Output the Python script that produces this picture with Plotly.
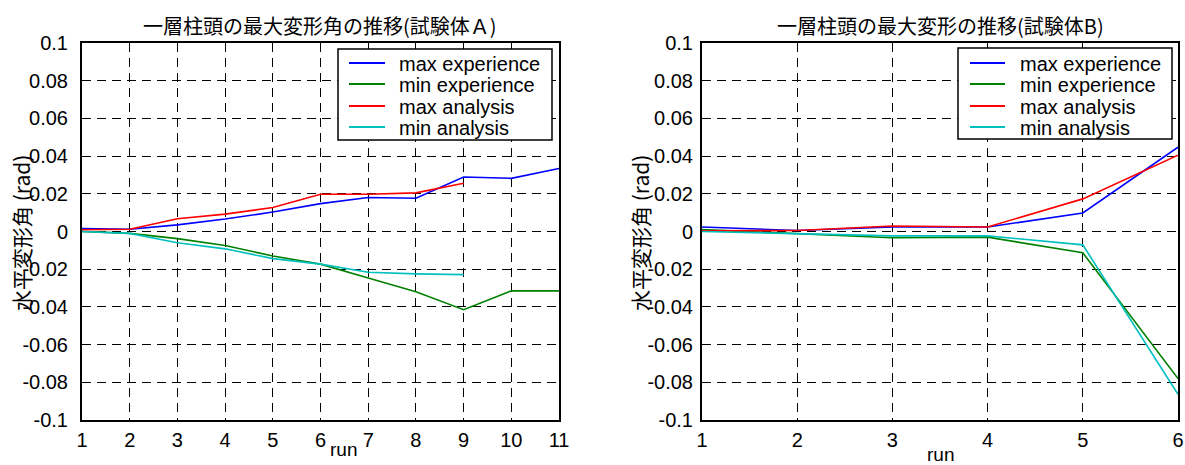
import plotly.graph_objects as go

# ---------------- data ----------------
runs_a = [1, 2, 3, 4, 5, 6, 7, 8, 9, 10, 11]
max_exp_a = [0.0016, 0.0012, 0.0035, 0.0066, 0.0103, 0.0148, 0.0180, 0.0176, 0.0289, 0.0282, 0.0334]
min_exp_a = [0.0000, -0.0010, -0.0038, -0.0074, -0.0130, -0.0173, -0.0247, -0.0320, -0.0415, -0.0315, -0.0315]
runs_a_ana = [1, 2, 3, 4, 5, 6, 7, 8, 9]
max_ana_a = [0.0009, 0.0012, 0.0068, 0.0092, 0.0127, 0.0198, 0.0198, 0.0205, 0.0256]
min_ana_a = [0.0000, -0.0010, -0.0060, -0.0092, -0.0144, -0.0173, -0.0216, -0.0225, -0.0229]

runs_b = [1, 2, 3, 4, 5, 6]
max_exp_b = [0.0024, 0.0005, 0.0024, 0.0024, 0.0098, 0.0447]
min_exp_b = [0.0010, -0.0010, -0.0033, -0.0030, -0.0113, -0.0780]
max_ana_b = [0.0004, 0.0005, 0.0029, 0.0024, 0.0173, 0.0405]
min_ana_b = [0.0000, -0.0010, -0.0023, -0.0023, -0.0071, -0.0864]

series_names = ["max experience", "min experience", "max analysis", "min analysis"]
series_colors = ["#0000ff", "#008000", "#ff0000", "#00bfbf"]

y_tick_vals = [0.1, 0.08, 0.06, 0.04, 0.02, 0, -0.02, -0.04, -0.06, -0.08, -0.1]
y_tick_text = ["0.1", "0.08", "0.06", "0.04", "0.02", "0", "-0.02", "-0.04", "-0.06", "-0.08", "-0.1"]
x_ticks_a = list(range(1, 12))
x_ticks_b = list(range(1, 7))

title_a = "一層柱頭の最大変形角の推移(試験体Ａ)"
title_b = "一層柱頭の最大変形の推移(試験体B)"
y_label = "水平変形角 (rad)"
x_label = "run"

# ---------------- figure ----------------
W, H = 1185, 465
fig = go.Figure()


def px_x(p):
    return p / W


def px_y(p):
    return 1 - p / H


def add_series(xs_list, ys_list, xaxis, yaxis):
    for (xs, ys), name, col in zip(zip(xs_list, ys_list), series_names, series_colors):
        fig.add_trace(go.Scatter(x=xs, y=ys, mode="lines", name=name,
                                 line=dict(color=col, width=1.6),
                                 xaxis=xaxis, yaxis=yaxis, showlegend=False))


add_series([runs_a, runs_a, runs_a_ana, runs_a_ana],
           [max_exp_a, min_exp_a, max_ana_a, min_ana_a], "x", "y")
add_series([runs_b, runs_b, runs_b, runs_b],
           [max_exp_b, min_exp_b, max_ana_b, min_ana_b], "x2", "y2")

sans = "Liberation Sans, Arial, sans-serif"
cjk = "Noto Sans CJK JP, sans-serif"
tick_font = dict(family=sans, size=20, color="black")

ax_common = dict(showline=True, linecolor="black", linewidth=2, mirror=True,
                 showgrid=True, gridcolor="black", gridwidth=1, griddash="9px,6px",
                 zeroline=False, ticks="", tickfont=tick_font, automargin=False)

ydom = [px_y(420), px_y(43)]
fig.update_layout(
    width=W, height=H,
    margin=dict(l=0, r=0, t=0, b=0),
    paper_bgcolor="white", plot_bgcolor="white",
    showlegend=False,
    xaxis=dict(domain=[px_x(82), px_x(559)], range=[1, 11], tickvals=x_ticks_a,
               anchor="y", ticklabelstandoff=1, **ax_common),
    yaxis=dict(domain=ydom, range=[-0.1, 0.1], tickvals=y_tick_vals, ticktext=y_tick_text,
               anchor="x", ticklabelstandoff=8, **ax_common),
    xaxis2=dict(domain=[px_x(702), px_x(1178)], range=[1, 6], tickvals=x_ticks_b,
                anchor="y2", ticklabelstandoff=1, **ax_common),
    yaxis2=dict(domain=ydom, range=[-0.1, 0.1], tickvals=y_tick_vals, ticktext=y_tick_text,
                anchor="x2", ticklabelstandoff=3, **ax_common),
)

# ---- legends (box + line samples + labels), one per panel ----
legend_specs = [
    dict(box=(338, 49, 552, 140), line_x=(349, 385), text_x=397),
    dict(box=(958, 48, 1172, 139), line_x=(970, 1005), text_x=1018),
]
entry_y = [63, 84, 106, 127]
for spec in legend_specs:
    x0, y0, x1, y1 = spec["box"]
    fig.add_shape(type="rect", xref="paper", yref="paper",
                  x0=px_x(x0), x1=px_x(x1), y0=px_y(y1), y1=px_y(y0),
                  line=dict(color="black", width=1.5), fillcolor="white", layer="above")
    for name, col, ey in zip(series_names, series_colors, entry_y):
        fig.add_shape(type="line", xref="paper", yref="paper",
                      x0=px_x(spec["line_x"][0]), x1=px_x(spec["line_x"][1]),
                      y0=px_y(ey), y1=px_y(ey),
                      line=dict(color=col, width=1.8), layer="above")
        fig.add_annotation(xref="paper", yref="paper", showarrow=False,
                           x=px_x(spec["text_x"]), y=px_y(ey + 1),
                           xanchor="left", yanchor="middle", text=name,
                           font=dict(family=sans, size=20, color="black"))

ann = [
    dict(text=title_a, x=px_x(320), y=px_y(26), font=dict(family=cjk, size=20, color="black")),
    dict(text=title_b, x=px_x(940), y=px_y(26), font=dict(family=cjk, size=20, color="black")),
    dict(text=x_label, x=px_x(343), y=px_y(449), font=dict(family=sans, size=19, color="black")),
    dict(text=x_label, x=px_x(940), y=px_y(454), font=dict(family=sans, size=19, color="black")),
    dict(text=y_label, x=px_x(21), y=px_y(233), textangle=-90, font=dict(family=cjk, size=21, color="black")),
    dict(text=y_label, x=px_x(640), y=px_y(233), textangle=-90, font=dict(family=cjk, size=21, color="black")),
]
for a in ann:
    fig.add_annotation(xref="paper", yref="paper", showarrow=False,
                       xanchor="center", yanchor="middle", **a)

fig.write_html("out.html")
